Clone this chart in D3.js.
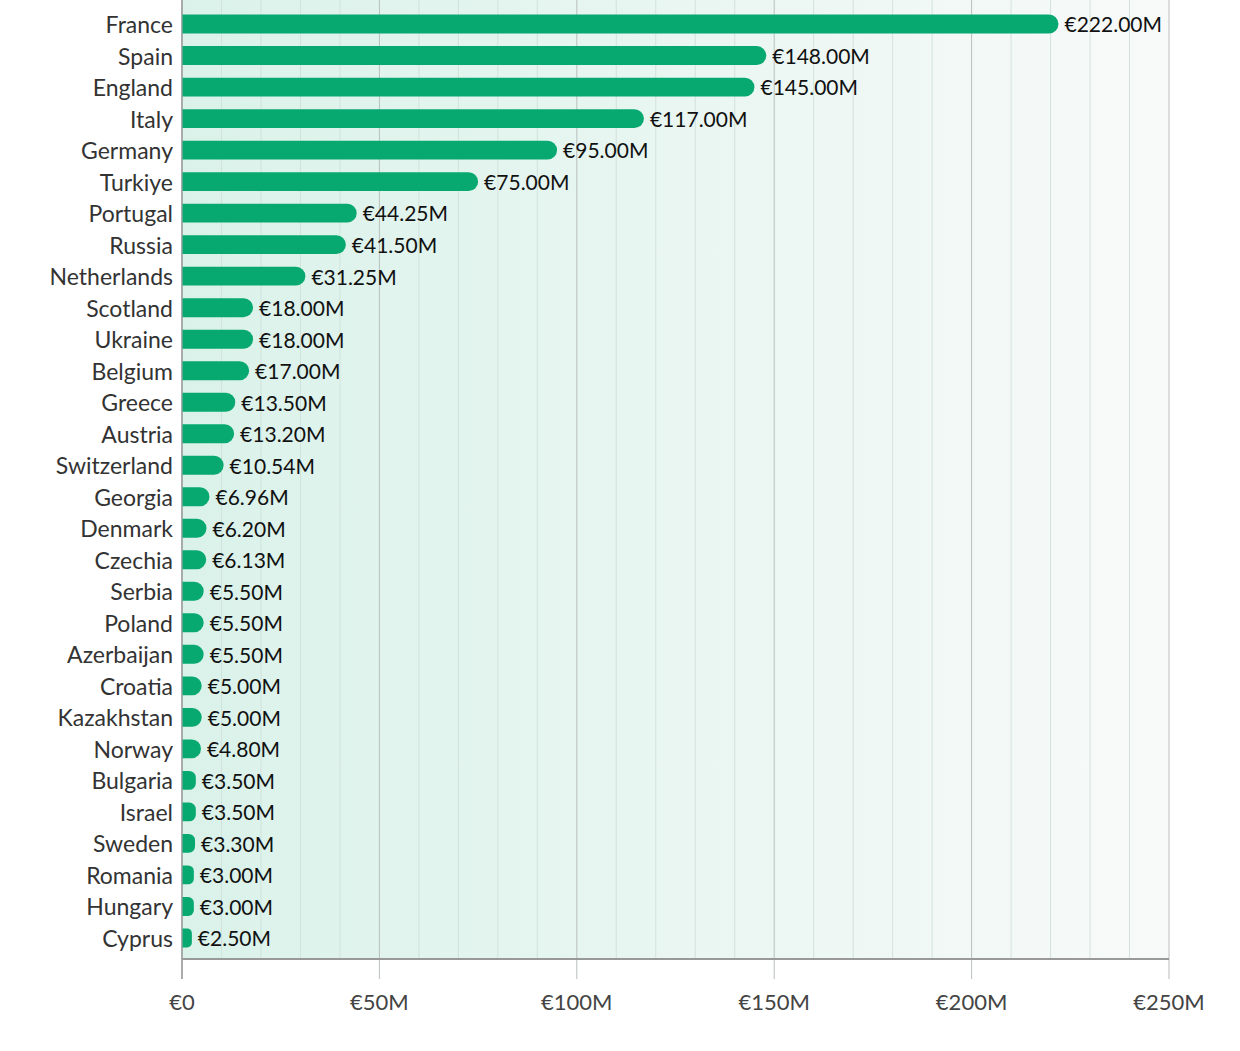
<!DOCTYPE html>
<html>
<head>
<meta charset="utf-8">
<script src="https://cdn.jsdelivr.net/npm/d3@7"></script>
<style>
  body { margin: 0; background: #fff; }
  svg text { font-family: Lato, "Open Sans", sans-serif; }
</style>
</head>
<body>
<svg id="chart" width="1240" height="1051"></svg>
<script>
const countries = ["France", "Spain", "England", "Italy", "Germany", "Turkiye", "Portugal", "Russia",
  "Netherlands", "Scotland", "Ukraine", "Belgium", "Greece", "Austria", "Switzerland", "Georgia",
  "Denmark", "Czechia", "Serbia", "Poland", "Azerbaijan", "Croatia", "Kazakhstan", "Norway",
  "Bulgaria", "Israel", "Sweden", "Romania", "Hungary", "Cyprus"];
const values = [222, 148, 145, 117, 95, 75, 44.25, 41.5, 31.25, 18, 18, 17, 13.5, 13.2, 10.54, 6.96,
  6.2, 6.13, 5.5, 5.5, 5.5, 5, 5, 4.8, 3.5, 3.5, 3.3, 3, 3, 2.5];
const xTicks = [0, 50, 100, 150, 200, 250];
const xTickLabels = ["€0", "€50M", "€100M", "€150M", "€200M", "€250M"];

const data = countries.map((c, i) => ({ country: c, value: values[i] }));

// plot area
const plotLeft = 182, plotRight = 1169, plotTop = 0, plotBottom = 959;

const svg = d3.select("#chart");

const x = d3.scaleLinear().domain([0, 250]).range([plotLeft, plotRight]);
const y = d3.scaleBand()
  .domain(countries)
  .range([2, 960])
  .paddingInner(0.4)
  .paddingOuter(0.4);

// background gradient
const defs = svg.append("defs");
const grad = defs.append("linearGradient").attr("id", "bg")
  .attr("x1", "0%").attr("x2", "100%").attr("y1", "0%").attr("y2", "0%");
grad.append("stop").attr("offset", "0%").attr("stop-color", "#daf2ea");
grad.append("stop").attr("offset", "100%").attr("stop-color", "#f8faf9");

svg.append("rect")
  .attr("x", plotLeft).attr("y", plotTop)
  .attr("width", plotRight - plotLeft).attr("height", plotBottom - plotTop)
  .attr("fill", "url(#bg)");

// minor grid every 10M
svg.append("g")
  .selectAll("line")
  .data(d3.range(10, 250, 10).filter(v => v % 50 !== 0))
  .enter()
  .append("line")
  .attr("x1", d => x(d)).attr("x2", d => x(d))
  .attr("y1", plotTop).attr("y2", plotBottom)
  .attr("stroke", "#d2e2dc")
  .attr("stroke-width", 1);

// major grid + ticks
svg.append("g")
  .selectAll("line")
  .data(xTicks)
  .enter()
  .append("line")
  .attr("x1", d => x(d)).attr("x2", d => x(d))
  .attr("y1", plotTop).attr("y2", 979)
  .attr("stroke", (d) => (d === 250 ? "#dcdcdc" : "#b9c0bd"))
  .attr("stroke-width", (d) => (d === 250 ? 2 : 1));

// axes lines
svg.append("line")
  .attr("x1", plotLeft).attr("x2", plotRight)
  .attr("y1", plotBottom).attr("y2", plotBottom)
  .attr("stroke", "#999")
  .attr("stroke-width", 2);
svg.append("line")
  .attr("x1", plotLeft).attr("x2", plotLeft)
  .attr("y1", plotTop).attr("y2", 979)
  .attr("stroke", "#9a9a9a")
  .attr("stroke-width", 1.5);

// bars, flat on the left, rounded on the right
const bh = y.bandwidth();
function barPath(d) {
  const x0 = x(0) + 0.5, x1 = x(d.value), y0 = y(d.country);
  const r = Math.min(bh / 2, (x1 - x0) / 2);
  return `M${x0},${y0}H${x1 - r}A${r},${r} 0 0 1 ${x1},${y0 + r}` +
    `V${y0 + bh - r}A${r},${r} 0 0 1 ${x1 - r},${y0 + bh}H${x0}Z`;
}
svg.append("g")
  .selectAll("path")
  .data(data)
  .enter()
  .append("path")
  .attr("d", barPath)
  .attr("fill", "#08a970");

// country labels
svg.append("g")
  .selectAll("text")
  .data(data)
  .enter()
  .append("text")
  .attr("x", plotLeft - 9)
  .attr("y", d => y(d.country) + bh / 2 + 1)
  .attr("dy", "0.35em")
  .attr("text-anchor", "end")
  .style("font-size", "23px")
  .style("fill", "#333")
  .text(d => d.country);

// value labels
svg.append("g")
  .selectAll("text")
  .data(data)
  .enter()
  .append("text")
  .attr("x", d => x(d.value) + 6)
  .attr("y", d => y(d.country) + bh / 2 + 1)
  .attr("dy", "0.35em")
  .style("font-size", "21px")
  .style("fill", "#111")
  .text(d => "€" + d.value.toFixed(2) + "M");

// x tick labels
svg.append("g")
  .selectAll("text")
  .data(xTicks)
  .enter()
  .append("text")
  .attr("x", d => x(d))
  .attr("y", 1002)
  .attr("dy", "0.35em")
  .attr("text-anchor", "middle")
  .style("font-size", "22px")
  .style("fill", "#444")
  .text((d, i) => xTickLabels[i]);
</script>
</body>
</html>
